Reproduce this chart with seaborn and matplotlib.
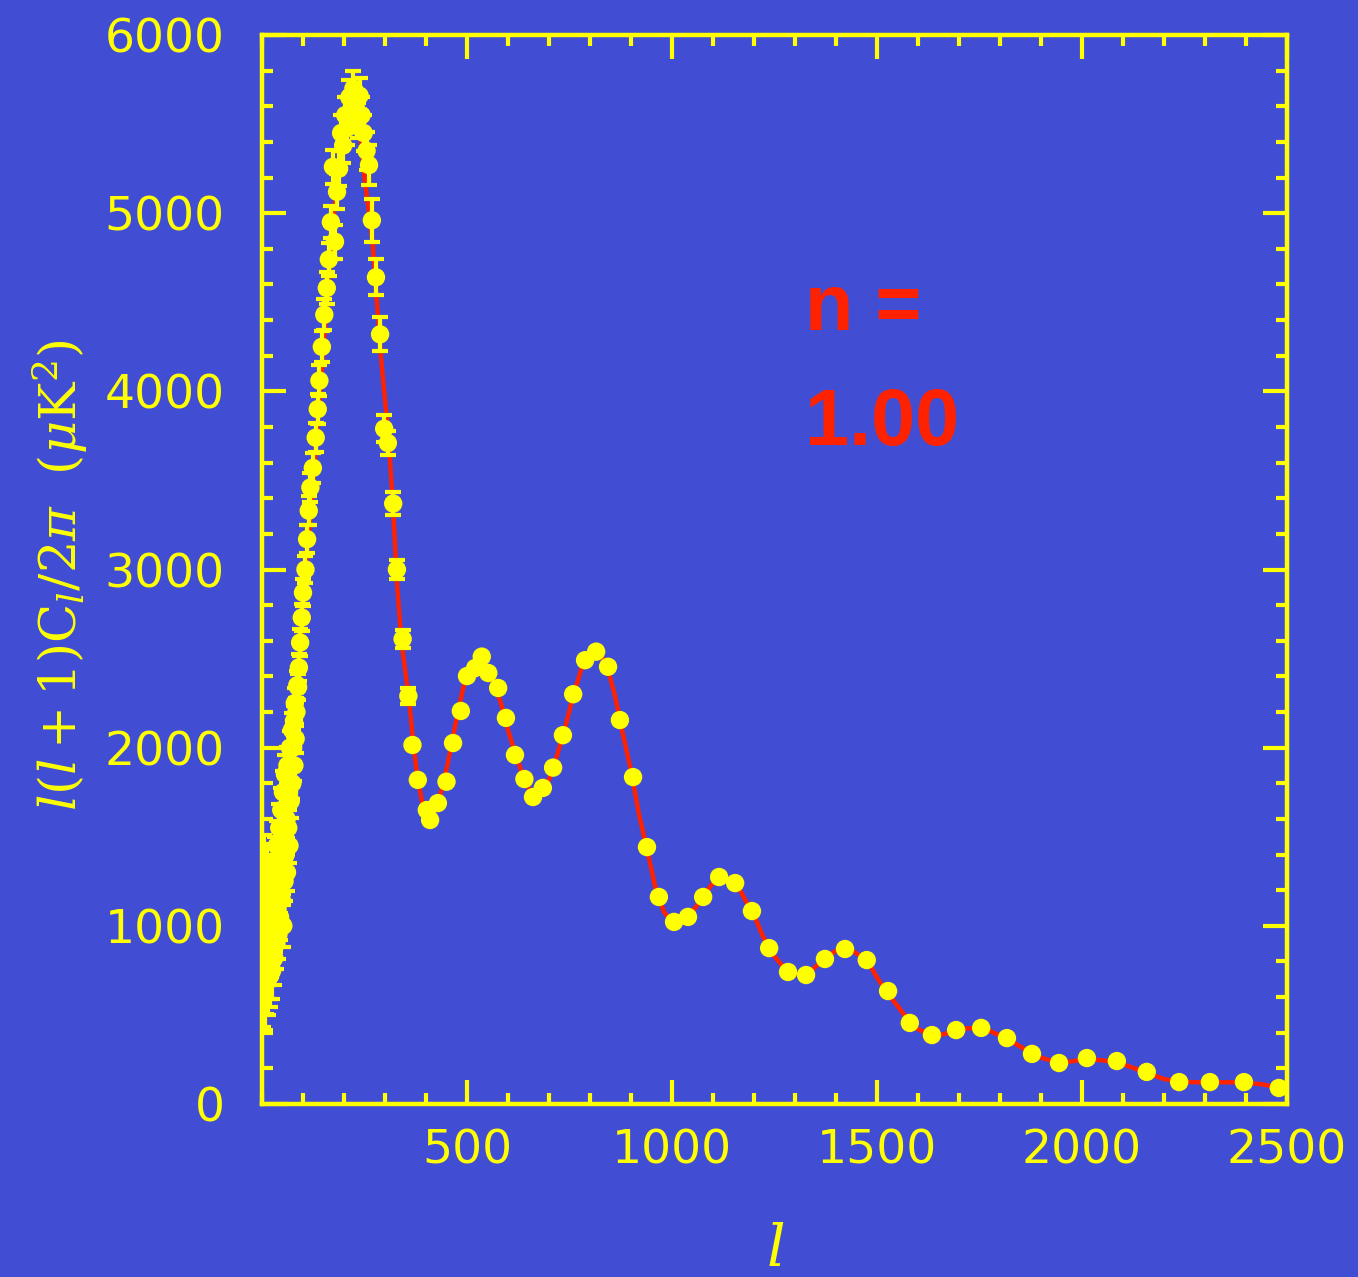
import numpy as np
import pandas as pd
import matplotlib
matplotlib.use("Agg")
import matplotlib.pyplot as plt
import seaborn as sns
from matplotlib.ticker import MultipleLocator, FixedLocator

# ---------------- data ----------------
theory_ell = [2, 5, 10, 15, 20, 30, 40, 50, 60, 70, 80, 90, 100, 110, 120, 130, 140,
              150, 160, 170, 180, 190, 200, 210, 220, 230, 240, 250, 260, 270, 280,
              290, 300, 310, 320, 330, 340, 350, 360, 370, 380, 390, 400, 410, 420,
              430, 440, 450, 460, 470, 480, 490, 500, 510, 520, 530, 540, 550, 560,
              570, 580, 590, 600, 620, 640, 660, 680, 700, 720, 740, 760, 780, 800,
              820, 840, 860, 880, 900, 920, 940, 960, 980, 1000, 1020, 1040, 1060,
              1080, 1100, 1120, 1140, 1160, 1180, 1200, 1220, 1240, 1260, 1280, 1300,
              1320, 1340, 1360, 1380, 1400, 1420, 1440, 1460, 1480, 1500, 1520, 1540,
              1560, 1580, 1600, 1630, 1660, 1690, 1720, 1750, 1780, 1810, 1840, 1870,
              1900, 1930, 1960, 1990, 2020, 2050, 2080, 2110, 2140, 2170, 2200, 2240,
              2280, 2320, 2360, 2400, 2440, 2480, 2500]
theory_D = [1100, 950, 880, 860, 870, 930, 1050, 1230, 1450, 1700, 2000, 2400, 2800,
            3100, 3350, 3650, 3950, 4250, 4550, 4850, 5100, 5300, 5450, 5550, 5600,
            5580, 5450, 5200, 5020, 4830, 4510, 4200, 3950, 3700, 3330, 2900, 2600,
            2420, 2240, 2000, 1820, 1700, 1640, 1610, 1640, 1700, 1780, 1880, 1990,
            2110, 2220, 2330, 2400, 2440, 2470, 2490, 2480, 2440, 2390, 2330, 2270,
            2190, 2100, 1950, 1820, 1730, 1730, 1820, 1960, 2120, 2300, 2450, 2530,
            2540, 2470, 2300, 2080, 1870, 1620, 1420, 1210, 1080, 1020, 1030, 1060,
            1110, 1180, 1240, 1270, 1260, 1225, 1140, 1060, 950, 860, 800, 750, 730,
            730, 750, 790, 830, 860, 870, 860, 830, 790, 710, 640, 580, 520, 460, 420,
            390, 390, 410, 425, 425, 405, 375, 335, 295, 260, 240, 235, 245, 250, 245,
            235, 215, 190, 165, 140, 125, 122, 122, 122, 120, 110, 92, 85]

low_ell = [2, 3, 4, 5, 6, 7, 8, 9, 10, 11, 12, 13, 14, 15, 16, 17, 18, 19, 20, 22, 23,
           24, 25, 26, 27, 28, 30, 31, 32, 34, 35, 36, 38, 39, 40, 42, 43, 44, 46, 47,
           48, 50, 51, 52, 54, 55, 56, 58, 60, 61, 62, 64, 66, 67, 68, 70, 72, 73, 74,
           76, 78, 79, 80, 82, 84, 86]
low_D = [1050, 700, 1250, 800, 1000, 650, 1150, 870, 720, 1080, 930, 1250, 700, 990,
         780, 1150, 850, 1000, 720, 1200, 880, 1050, 750, 1300, 950, 1100, 820, 1350,
         1000, 1200, 900, 1450, 1100, 1300, 950, 1550, 1200, 1050, 1400, 1650, 1150,
         1300, 1750, 1000, 1500, 1250, 1850, 1400, 1600, 1300, 1900, 1550, 1750, 1450,
         2000, 1700, 1900, 2100, 1800, 2000, 2150, 1900, 2250, 2050, 2200, 2350]
low_err = [280, 270, 260, 250, 245, 235, 230, 225, 215, 210, 205, 200, 200, 195, 190,
           185, 180, 178, 175, 170, 168, 165, 162, 160, 158, 155, 150, 150, 148, 145,
           142, 140, 138, 136, 134, 132, 130, 128, 126, 124, 122, 120, 118, 116, 114,
           112, 110, 108, 106, 105, 104, 102, 100, 98, 96, 95, 94, 92, 90, 88, 86, 85,
           84, 82, 80, 78]

mid_ell = [88, 90, 93, 97, 100, 106, 110, 114, 118, 124, 131, 136, 140, 146, 152, 158,
           163, 168, 173, 178, 183, 188, 193, 198, 203, 208, 213, 218, 223, 228, 233,
           238, 243, 248, 255, 261, 268, 278, 288, 298, 307, 320, 329, 343, 357]
mid_D = [2340, 2450, 2590, 2730, 2870, 3000, 3170, 3330, 3460, 3570, 3740, 3900, 4060,
         4250, 4430, 4580, 4740, 4950, 5260, 4840, 5120, 5250, 5450, 5380, 5550, 5480,
         5650, 5580, 5700, 5600, 5520, 5660, 5550, 5450, 5350, 5270, 4960, 4640, 4320,
         3790, 3710, 3370, 3000, 2610, 2290]
mid_err = [75, 75, 75, 75, 75, 78, 78, 80, 80, 82, 82, 84, 85, 86, 88, 90, 90, 92, 95,
           95, 98, 98, 100, 100, 100, 100, 100, 100, 100, 100, 100, 100, 100, 100, 105,
           110, 120, 100, 95, 75, 70, 65, 55, 50, 45]

high_ell = [367, 380, 402, 410, 429, 450, 466, 485, 500, 520, 536, 552, 576, 595, 617,
            640, 661, 685, 710, 734, 759, 788, 815, 844, 873, 905, 939, 968, 1005, 1039,
            1076, 1115, 1154, 1195, 1237, 1283, 1327, 1373, 1422, 1475, 1527, 1580,
            1634, 1693, 1754, 1817, 1878, 1944, 2012, 2085, 2158, 2237, 2312, 2395, 2480]
high_D = [2015, 1819, 1650, 1594, 1689, 1809, 2026, 2206, 2402, 2447, 2511, 2419, 2335,
          2167, 1959, 1824, 1723, 1774, 1888, 2070, 2300, 2491, 2539, 2454, 2155, 1835,
          1442, 1162, 1022, 1050, 1162, 1274, 1240, 1083, 875, 741, 724, 814, 870, 808,
          634, 455, 387, 415, 427, 370, 281, 230, 258, 241, 180, 123, 123, 123, 90]

x_ticks = [500, 1000, 1500, 2000, 2500]
y_ticks = [0, 1000, 2000, 3000, 4000, 5000, 6000]
annotation = ["n =", "1.00"]

# ---------------- style ----------------
BG = "#414ED3"
YEL = "#FFFF00"
RED = "#FF2200"

sns.set_theme(style="ticks")
plt.rcParams["font.family"] = ["DejaVu Sans"]
plt.rcParams["mathtext.fontset"] = "dejavuserif"

fig = plt.figure(figsize=(13.58, 12.77), dpi=100, facecolor=BG)
ax = fig.add_axes([262 / 1358, 1 - 1104 / 1277, 1025 / 1358, 1069 / 1277])
ax.set_facecolor(BG)

theory = pd.DataFrame({"ell": theory_ell, "D": theory_D})
sns.lineplot(data=theory, x="ell", y="D", ax=ax, color=RED, lw=3.2,
             sort=False, zorder=2)

all_err_ell = low_ell + mid_ell
all_err_D = low_D + mid_D
all_err = low_err + mid_err
ax.errorbar(all_err_ell, all_err_D, yerr=all_err, fmt="none", ecolor=YEL,
            elinewidth=3, capsize=6, capthick=3, zorder=3)

pts = pd.DataFrame({"ell": low_ell + mid_ell + high_ell,
                    "D": low_D + mid_D + high_D})
sns.scatterplot(data=pts, x="ell", y="D", ax=ax, color=YEL, s=175,
                edgecolor="none", linewidth=0, zorder=4)

ax.set_xlim(0, 2500)
ax.set_ylim(0, 6000)
ax.xaxis.set_major_locator(FixedLocator(x_ticks))
ax.yaxis.set_major_locator(FixedLocator(y_ticks))
ax.xaxis.set_minor_locator(MultipleLocator(100))
ax.yaxis.set_minor_locator(MultipleLocator(200))
ax.set_xticklabels([str(v) for v in x_ticks])
ax.set_yticklabels([str(v) for v in y_ticks])

for sp in ax.spines.values():
    sp.set_color(YEL)
    sp.set_linewidth(3.2)

ax.tick_params(which="both", direction="in", top=True, right=True,
               color=YEL, labelcolor=YEL, width=3)
ax.tick_params(which="major", length=17, labelsize=34)
ax.tick_params(which="minor", length=8)
ax.tick_params(axis="x", which="major", pad=18)
ax.tick_params(axis="y", which="major", pad=27)
ax.set_xlabel("")
ax.set_ylabel("")

fig.text(60 / 1358, 1 - 575 / 1277,
         r"$l(l+1)\mathrm{C}_l/2\pi\ \ (\mu\mathrm{K}^2)$",
         color=YEL, fontsize=37, rotation=90, ha="center", va="center")
fig.text(775 / 1358, 1 - 1250 / 1277, r"$l$", color=YEL, fontsize=42,
         ha="center", va="center")

ax.text(0.530, 0.724, annotation[0], transform=ax.transAxes, color=RED,
        fontsize=57, fontweight="bold", family="Liberation Sans",
        ha="left", va="baseline")
ax.text(0.530, 0.616, annotation[1], transform=ax.transAxes, color=RED,
        fontsize=57, fontweight="bold", family="Liberation Sans",
        ha="left", va="baseline")

fig.savefig("out.png", dpi=100, facecolor=BG)
